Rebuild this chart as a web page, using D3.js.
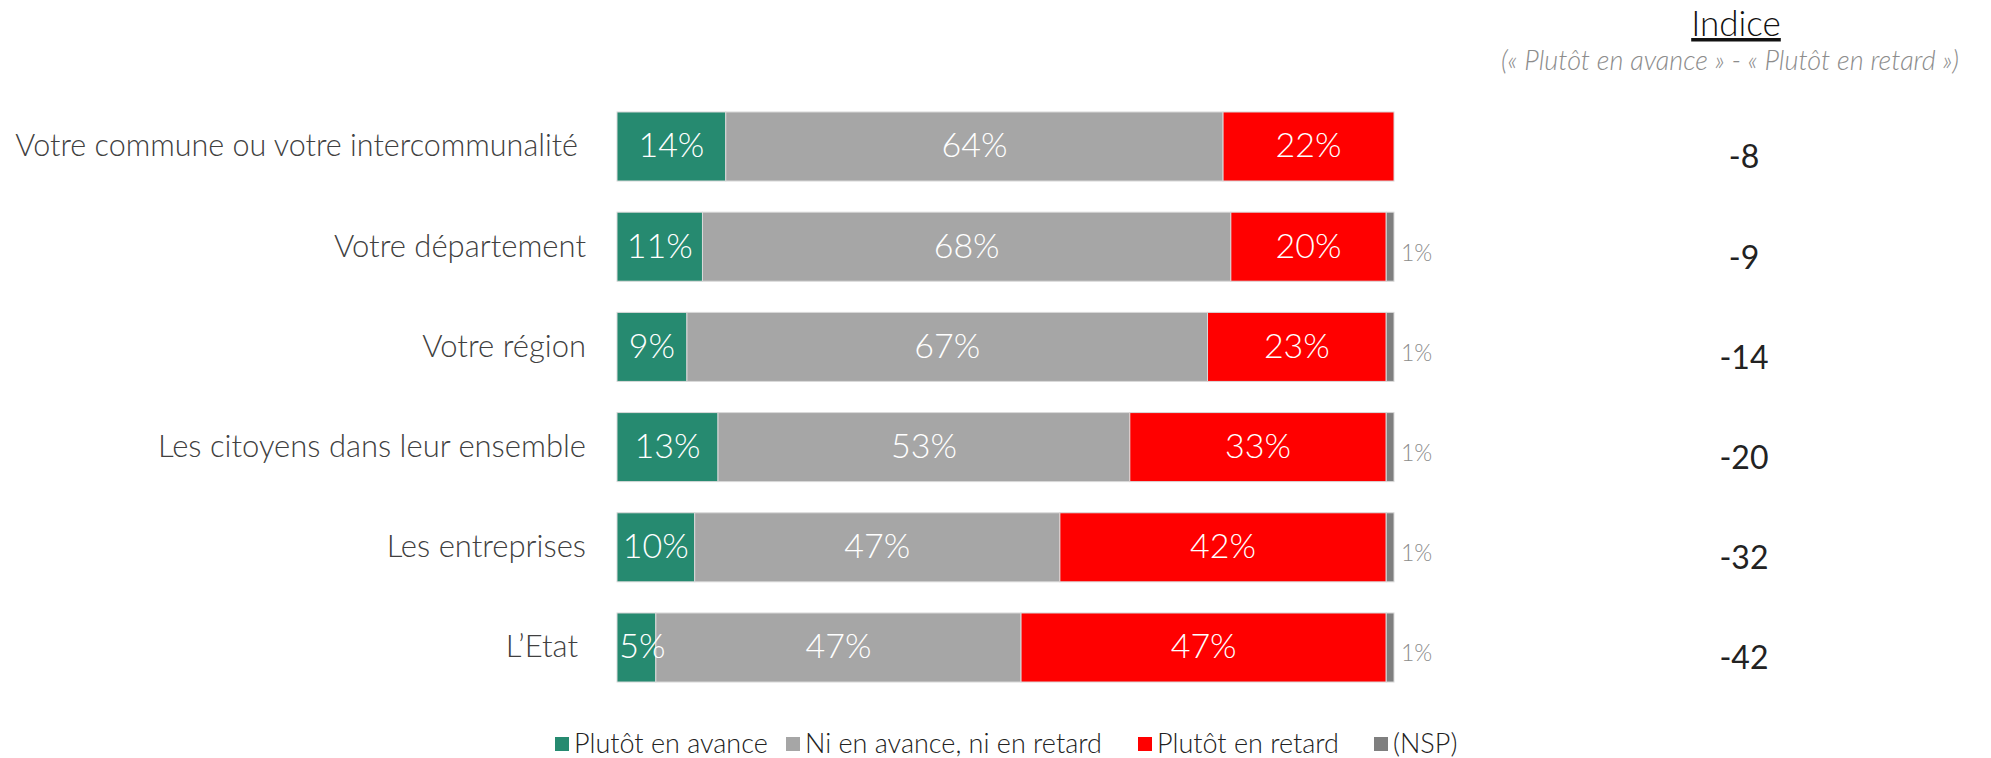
<!DOCTYPE html>
<html>
<head>
<meta charset="utf-8">
<script src="https://cdn.jsdelivr.net/npm/d3@7"></script>
<style>
body { margin: 0; background: #fff; }
text { font-family: Lato, "Open Sans", sans-serif; }
</style>
</head>
<body>
<div id="chart"></div>
<script>
let width = 1991
let height = 758

let categories = ['Votre commune ou votre intercommunalité', 'Votre département', 'Votre région', 'Les citoyens dans leur ensemble', 'Les entreprises', 'L\u2019Etat']
let avance = [14, 11, 9, 13, 10, 5]
let ni = [64, 68, 67, 53, 47, 47]
let retard = [22, 20, 23, 33, 42, 47]
let nsp = [0, 1, 1, 1, 1, 1]
let indice = [-8, -9, -14, -20, -32, -42]

let seriesNames = ['Plutôt en avance', 'Ni en avance, ni en retard', 'Plutôt en retard', '(NSP)']
let colors = ['#268A70', '#A6A6A6', '#FF0000', '#7F7F7F']

let rows = categories.map((c, i) => ({
	cat: c, vals: [avance[i], ni[i], retard[i], nsp[i]], indice: indice[i]
}))

let xScale = d3.scaleLinear()
	.domain([0, 100])
	.range([617, 1394])

let yScale = d3.scaleBand()
	.domain(categories)
	.range([96.4, 697.6])
	.paddingInner(0.311)
	.paddingOuter(0.1555)

let svg = d3.select('#chart').append('svg')
	.attr('width', width)
	.attr('height', height)

let rowG = svg.selectAll('g.row')
	.data(rows)
	.enter().append('g')
	.attr('class', 'row')
	.attr('transform', d => `translate(0,${yScale(d.cat)})`)

let bh = yScale.bandwidth()

// segments: start/end of each stacked piece
rowG.each(function (d) {
	let acc = 0
	d.segs = d.vals.map((v, k) => {
		let s = { k: k, v: v, x0: xScale(acc), x1: xScale(acc + v) }
		acc += v
		return s
	}).filter(s => s.v > 0)
})

rowG.selectAll('rect')
	.data(d => d.segs)
	.enter().append('rect')
	.attr('x', s => s.x0)
	.attr('y', 0)
	.attr('width', s => s.x1 - s.x0)
	.attr('height', bh)
	.attr('fill', s => colors[s.k])
	.attr('stroke', '#d9d9d9')
	.attr('stroke-width', 1)

rowG.selectAll('text.val')
	.data(d => d.segs)
	.enter().append('text')
	.attr('class', 'val')
	.attr('x', s => s.k < 3 ? (s.x0 + s.x1) / 2 + (s.x1 - s.x0 < 45 ? 6 : 0) : s.x1 + 7)
	.attr('y', s => s.k < 3 ? bh / 2 + 11 : bh / 2 + 14)
	.attr('text-anchor', s => s.k < 3 ? 'middle' : 'start')
	.attr('fill', s => s.k < 3 ? '#fff' : '#8c8c8c')
	.attr('font-size', s => s.k < 3 ? 34 : 23)
	.attr('font-weight', 300)
	.text(s => s.v + '%')

// category labels
rowG.append('text')
	.attr('x', (d, i) => (i === 0 || i === 5) ? 578 : 586)
	.attr('y', bh / 2 + 10)
	.attr('text-anchor', 'end')
	.attr('fill', '#404040')
	.attr('font-size', (d, i) => i === 0 ? 30.5 : 31)
	.attr('font-weight', 300)
	.text(d => d.cat)

// indice column
rowG.append('text')
	.attr('x', 1744)
	.attr('y', bh / 2 + 22)
	.attr('text-anchor', 'middle')
	.attr('fill', '#222')
	.attr('font-size', 32)
	.attr('font-weight', 400)
	.text(d => d.indice)

svg.append('text')
	.attr('x', 1736)
	.attr('y', 36)
	.attr('text-anchor', 'middle')
	.attr('fill', '#111')
	.attr('font-size', 35)
	.attr('font-weight', 300)
	.attr('text-decoration', 'underline')
	.text('Indice')

svg.append('text')
	.attr('x', 1730)
	.attr('y', 70)
	.attr('text-anchor', 'middle')
	.attr('fill', '#8c8c8c')
	.attr('font-size', 27)
	.attr('font-weight', 300)
	.attr('font-style', 'italic')
	.text('(« Plutôt en avance » - « Plutôt en retard »)')

// legend
let legendX = [555, 786, 1138, 1374]
let legend = svg.selectAll('g.legend')
	.data(seriesNames)
	.enter().append('g')
	.attr('class', 'legend')
	.attr('transform', (d, i) => `translate(${legendX[i]},744)`)

legend.append('rect')
	.attr('x', 0)
	.attr('y', -7)
	.attr('width', 14)
	.attr('height', 14)
	.attr('fill', (d, i) => colors[i])

legend.append('text')
	.attr('x', 19)
	.attr('y', 9)
	.attr('fill', '#222')
	.attr('font-size', 27)
	.attr('font-weight', 300)
	.text(d => d)
</script>
</body>
</html>
